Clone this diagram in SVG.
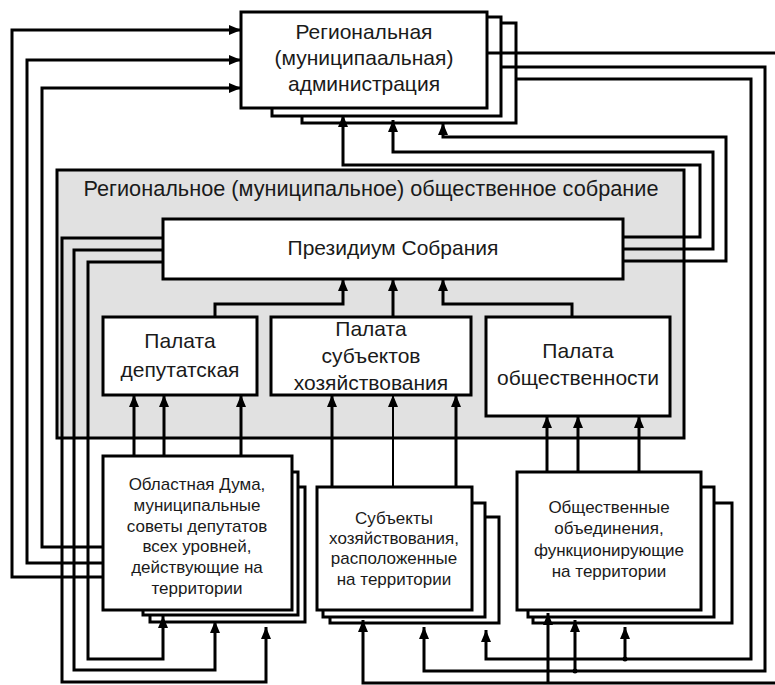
<svg xmlns="http://www.w3.org/2000/svg" width="775" height="685" viewBox="0 0 775 685">
<defs>
<style>
.box{fill:#fff;stroke:#000;stroke-width:3}
.grp{fill:#e1e1e1;stroke:#000;stroke-width:3}
.c{fill:none;stroke:#000;stroke-width:3;stroke-linejoin:miter}
.ca{fill:none;stroke:#000;stroke-width:3;marker-end:url(#ah)}
.t{font-family:"Liberation Sans",Arial,sans-serif;fill:#1a1a1a;text-anchor:middle}
.big{font-size:21px}
.ttl{font-size:21.7px}
.sm{font-size:17px}
</style>
<marker id="ah" markerUnits="userSpaceOnUse" markerWidth="12" markerHeight="10" refX="12" refY="5" orient="auto">
<path d="M0,0 L12,5 L0,10 z" fill="#000"/>
</marker>
</defs>
<rect width="775" height="685" fill="#fff"/>

<g id="assembly">
<rect class="grp" x="57" y="170" width="627" height="268"/>
<text class="t ttl" x="371" y="196">Региональное (муниципальное) общественное собрание</text>
</g>

<g id="admin">
<rect class="box" x="302" y="23" width="214" height="100"/>
<rect class="box" x="272" y="17" width="229" height="99"/>
<rect class="box" x="241" y="12" width="246" height="96"/>
<text class="t big" x="364" y="39">Региональная</text>
<text class="t big" x="364" y="65">(муниципаальная)</text>
<text class="t big" x="364" y="91">администрация</text>
</g>

<g id="presidium">
<rect class="box" x="163" y="219" width="460" height="60"/>
<text class="t big" x="393" y="255">Президиум Собрания</text>
</g>

<g id="palata-dep">
<rect class="box" x="103" y="317" width="154" height="78"/>
<text class="t big" x="180" y="348">Палата</text>
<text class="t big" x="180" y="377">депутатская</text>
</g>

<g id="palata-sub">
<rect class="box" x="271" y="317" width="200" height="78"/>
<text class="t big" x="371" y="336">Палата</text>
<text class="t big" x="371" y="363">субъектов</text>
<text class="t big" x="371" y="390">хозяйствования</text>
</g>

<g id="palata-obsh">
<rect class="box" x="486" y="317" width="184" height="99"/>
<text class="t big" x="578" y="358">Палата</text>
<text class="t big" x="578" y="385">общественности</text>
</g>

<g id="duma">
<rect class="box" x="150" y="487" width="155" height="135"/>
<rect class="box" x="143" y="472" width="155" height="143"/>
<rect class="box" x="103" y="456" width="189" height="154"/>
<text class="t sm" x="197" y="490">Областная Дума,</text>
<text class="t sm" x="197" y="511">муниципальные</text>
<text class="t sm" x="197" y="532">советы депутатов</text>
<text class="t sm" x="197" y="552">всех уровней,</text>
<text class="t sm" x="197" y="573">действующие на</text>
<text class="t sm" x="197" y="594">территории</text>
</g>

<g id="subjects">
<rect class="box" x="330" y="517" width="169" height="106"/>
<rect class="box" x="323" y="503" width="162" height="114"/>
<rect class="box" x="317" y="487" width="155" height="123"/>
<text class="t sm" x="394" y="524">Субъекты</text>
<text class="t sm" x="394" y="544">хозяйствования,</text>
<text class="t sm" x="394" y="564">расположенные</text>
<text class="t sm" x="394" y="585">на территории</text>
</g>

<g id="public">
<rect class="box" x="533" y="503" width="199" height="120"/>
<rect class="box" x="528" y="487" width="186" height="130"/>
<rect class="box" x="517" y="472" width="184" height="138"/>
<text class="t sm" x="609" y="513">Общественные</text>
<text class="t sm" x="609" y="534">объединения,</text>
<text class="t sm" x="609" y="556">функционирующие</text>
<text class="t sm" x="609" y="577">на территории</text>
</g>

<g id="connectors">
<path class="ca" d="M103,577 H12 V30 H241"/>
<path class="ca" d="M103,563 H27 V60 H241"/>
<path class="ca" d="M103,547 H42 V88 H241"/>
<path class="ca" d="M163,238 H62 V682 H266 V627"/>
<path class="ca" d="M163,250 H74 V670 H215 V621"/>
<path class="ca" d="M163,262 H88 V659 H163 V616"/>
<path class="ca" d="M623,237 H700 V165 H343 V115"/>
<path class="ca" d="M623,249 H713 V152 H393 V120"/>
<path class="ca" d="M623,261 H726 V137 H443 V123"/>
<path class="ca" d="M215,317 V304 H343 V279"/>
<path class="ca" d="M393,317 V279"/>
<path class="ca" d="M572,317 V304 H443 V279"/>
<path class="ca" d="M134,456 V395"/>
<path class="ca" d="M164,456 V395"/>
<path class="ca" d="M241,456 V395"/>
<path class="ca" d="M332,487 V395"/>
<path class="ca" d="M393,487 V395" style="stroke-width:2"/>
<path class="ca" d="M456,487 V395"/>
<path class="ca" d="M547,472 V416"/>
<path class="ca" d="M578,472 V416"/>
<path class="ca" d="M639,472 V416"/>
<path class="c" d="M487,53 H775"/>
<path class="ca" d="M500,67 H765 V671 H424 V627"/>
<path class="ca" d="M575,671 V620"/>
<path class="ca" d="M516,79 H751 V659 H486 V630"/>
<path class="ca" d="M625,659 V627"/>
<path class="ca" d="M775,683 H363 V620"/>
<path class="ca" d="M548,683 V613"/>
<circle cx="575" cy="671" r="2.5"/>
<circle cx="625" cy="659" r="2.5"/>
</g>
</svg>
